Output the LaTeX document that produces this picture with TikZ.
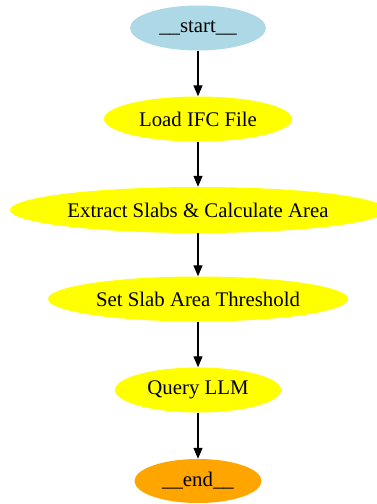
\documentclass[tikz,border=0pt]{standalone}
\usepackage{fontspec}
\setmainfont{Liberation Serif}
\usetikzlibrary{shapes.geometric,arrows.meta}
\definecolor{startblue}{HTML}{ADD8E6}
\definecolor{stepyellow}{HTML}{FFFF00}
\definecolor{endorange}{HTML}{FFA500}
\tikzset{
  flownode/.style={ellipse, inner sep=0pt, font=\fontsize{20.8}{24}\selectfont, text=black},
  arr/.style={draw=black, line width=1.2pt, -{Triangle[length=11pt,width=9pt]}}
}
\begin{document}
\begin{tikzpicture}[x=1pt,y=-1pt]
\useasboundingbox (0,0) rectangle (377,504);
\clip (0,0) rectangle (377,504);
\node[flownode, fill=startblue, minimum width=136pt, minimum height=45pt] (start) at (198,28) {\_\_start\_\_};
\node[flownode, fill=stepyellow, minimum width=188pt, minimum height=45pt] (load) at (198,119) {Load IFC File};
\node[flownode, fill=stepyellow, minimum width=376pt, minimum height=46pt] (extract) at (198,210) {Extract Slabs \& Calculate Area};
\node[flownode, fill=stepyellow, minimum width=300pt, minimum height=45pt] (thresh) at (198,299) {Set Slab Area Threshold};
\node[flownode, fill=stepyellow, minimum width=166pt, minimum height=45pt] (query) at (198,390) {Query LLM};
\node[flownode, fill=endorange, minimum width=127pt, minimum height=44pt] (end) at (198,481) {\_\_end\_\_};
\draw[arr] (start) -- (load);
\draw[arr] (load) -- (extract);
\draw[arr] (extract) -- (thresh);
\draw[arr] (thresh) -- (query);
\draw[arr] (query) -- (end);
\end{tikzpicture}
\end{document}
